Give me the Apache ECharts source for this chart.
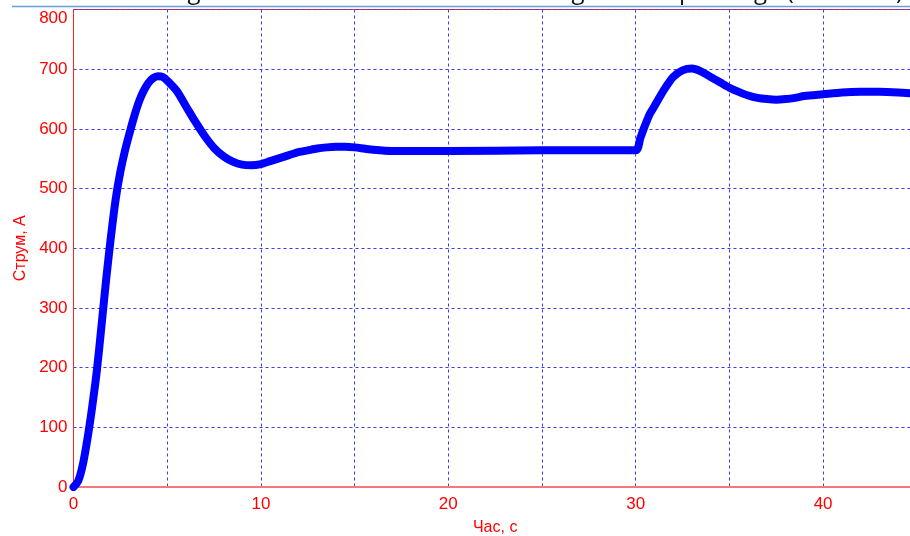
<!DOCTYPE html>
<html>
<head>
<meta charset="utf-8">
<script src="https://cdn.jsdelivr.net/npm/echarts@6/dist/echarts.min.js"></script>
<style>
html,body{margin:0;padding:0;background:#fff;}
#chart{width:910px;height:536px;}
</style>
</head>
<body>
<div id="chart"></div>
<script>
// Data
var timeSec = [0, 0.25, 0.5, 0.75, 1.0, 1.25, 1.5, 1.75, 2.0, 2.25, 2.5, 2.75, 3.0, 3.25, 3.5, 3.75, 4.0, 4.25, 4.5, 4.75, 5.0, 5.5, 6.0, 6.5, 7.0, 7.5, 8.0, 8.5, 9.0, 9.5, 10, 10.5, 11, 11.5, 12, 12.5, 13, 13.5, 14, 14.5, 15, 15.5, 16, 17, 18, 20, 25, 30, 30.25, 30.5, 30.75, 31, 31.5, 32, 32.5, 33, 33.5, 34, 34.5, 35, 35.5, 36, 36.5, 37, 37.5, 38, 38.5, 39, 40, 41, 42, 43, 44, 45];
var currentA = [0, 10, 38, 82, 135, 196, 272, 350, 420, 482, 528, 564, 594, 622, 646, 664, 677, 685, 688, 687, 681, 664, 638, 612, 588, 568, 554, 545, 540, 539, 541, 546, 551, 556, 561, 564, 567, 569, 570, 570, 569, 567, 565, 563, 563, 563, 564, 564, 585, 606, 625, 638, 665, 687, 698, 701, 696, 687, 678, 669, 662, 656, 652, 650, 649, 650, 652, 655, 658, 661, 662, 662, 661, 659];
var xTicks = [0, 10, 20, 30, 40];
var yTicks = [0, 100, 200, 300, 400, 500, 600, 700, 800];
var xAxisName = 'Час, с';
var yAxisName = 'Струм, А';
var captionText = 'Fig. 3. Drive current transients during load step change (40% load)';

var seriesData = timeSec.map(function (t, i) { return [t, currentA[i]]; });

var chart = echarts.init(document.getElementById('chart'), null, {renderer: 'canvas'});
var labelFont = {color: '#ff0000', fontSize: 17, fontFamily: '"Liberation Sans", Arial, sans-serif'};
var nameFont = {color: '#ff0000', fontSize: 16, fontFamily: '"Liberation Sans", Arial, sans-serif'};
var gridLine = {show: true, lineStyle: {color: '#3a3aff', width: 1, type: [3, 3]}};

chart.setOption({
  animation: false,
  backgroundColor: '#ffffff',
  grid: {left: 73.5, top: 9.5, width: 843.3, bottom: 49, outerBoundsMode: 'none', containLabel: false,
         show: true, borderColor: '#ff2020', borderWidth: 1, backgroundColor: 'transparent'},
  graphic: [
    {type: 'text', x: 903, y: 4, silent: true,
     style: {text: captionText, fill: '#111', font: '24px "Open Sans", sans-serif', textAlign: 'right', textVerticalAlign: 'bottom'}},
    {type: 'line', silent: true, shape: {x1: 12, y1: 6.5, x2: 910, y2: 6.5}, style: {stroke: '#6a9fd4', lineWidth: 1.5}}
  ],
  xAxis: {
    type: 'value', min: 0, max: 45, interval: 5,
    name: xAxisName, nameLocation: 'middle', nameGap: 33,
    nameTextStyle: nameFont,
    axisLine: {show: true, onZero: false, lineStyle: {color: '#f47a7a', width: 2}},
    axisTick: {show: false},
    axisLabel: Object.assign({margin: 9, formatter: function (v) { return xTicks.indexOf(v) >= 0 ? String(v) : ''; }}, labelFont),
    splitLine: gridLine
  },
  yAxis: {
    type: 'value', min: 0, max: 800, interval: 100,
    name: yAxisName, nameLocation: 'middle', nameGap: 45,
    nameTextStyle: nameFont,
    axisLine: {show: true, lineStyle: {color: '#ff2020', width: 1}},
    axisTick: {show: false},
    axisLabel: Object.assign({margin: 6, verticalAlignMaxLabel: 'top', formatter: function (v) { return yTicks.indexOf(v) >= 0 ? String(v) : ''; }}, labelFont),
    splitLine: gridLine
  },
  series: [{
    type: 'line',
    data: seriesData,
    showSymbol: false,
    smooth: 0.25,
    lineStyle: {color: '#0000ff', width: 8, cap: 'round', join: 'round'},
    itemStyle: {color: '#0000ff'},
    clip: true
  }]
});
</script>
</body>
</html>
